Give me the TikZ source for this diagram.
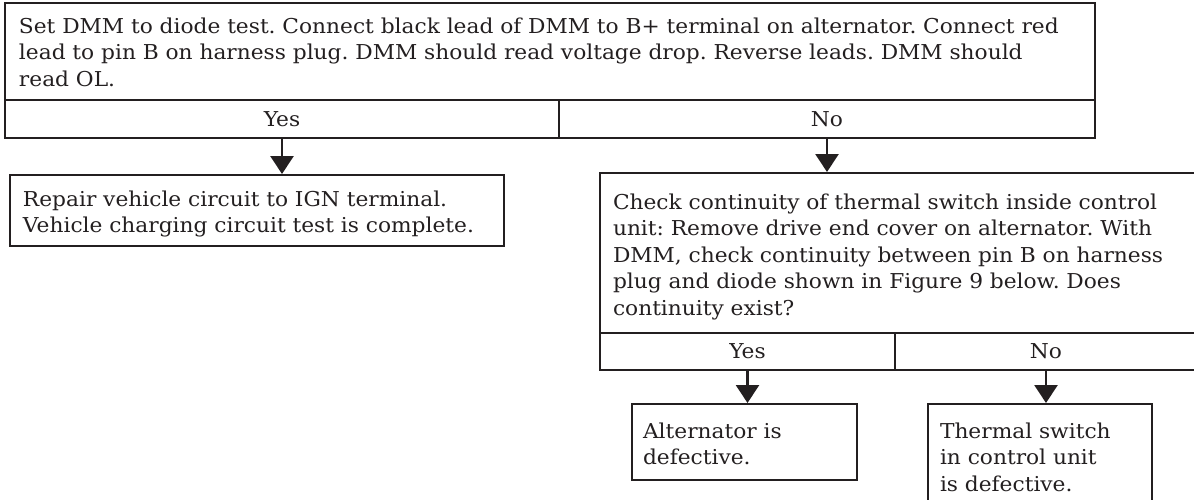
\documentclass[tikz,border=0pt]{standalone}
\usepackage{fontspec}
\setmainfont{DejaVu Serif}[FakeStretch=1.06]
\frenchspacing
\usetikzlibrary{arrows.meta}
\definecolor{ink}{RGB}{35,31,32}
\tikzstyle{block} = [rectangle, anchor=north west, draw=ink, text=ink, line width=2pt, align=left, inner ysep=0pt, font=\fontsize{20.5}{26.5}\selectfont]
\tikzstyle{cell} = [rectangle, anchor=north west, draw=ink, text=ink, line width=2pt, inner sep=0pt, font=\fontsize{20.5}{26.5}\selectfont]
\tikzstyle{arrow} = [draw=ink, line width=2.6pt, -{Triangle[width=23pt, length=18pt]}]

\begin{document}
\begin{tikzpicture}[x=1pt, y=-1pt]
  \useasboundingbox (0,0) rectangle (1194,499);
  \clip (0,0) rectangle (1194,499);
  \node[block, minimum width=1090pt, inner xsep=14pt, text width=1062pt, text height=30pt, text depth=67pt] (diode) at (4,2) {Set DMM to diode test. Connect black lead of DMM to B+ terminal on alternator. Connect red\\lead to pin B on harness plug. DMM should read voltage drop. Reverse leads. DMM should\\read OL.};
  \node[cell, minimum width=554pt, minimum height=38pt] (yes1) at (4,99) {Yes};
  \node[cell, minimum width=536pt, minimum height=38pt] (no1) at (558,99) {No};
  \node[block, minimum width=494pt, inner xsep=13pt, text width=468pt, text height=31pt, text depth=40pt] (repair) at (9,174) {Repair vehicle circuit to IGN terminal.\\Vehicle charging circuit test is complete.};
  \node[block, minimum width=597pt, inner xsep=13pt, text width=571pt, text height=36pt, text depth=124pt] (thermal) at (599,172) {Check continuity of thermal switch inside control\\unit: Remove drive end cover on alternator. With\\DMM, check continuity between pin B on harness\\plug and diode shown in Figure 9 below. Does\\continuity exist?};
  \node[cell, minimum width=295pt, minimum height=37pt] (yes2) at (599,332) {Yes};
  \node[cell, minimum width=302pt, minimum height=37pt] (no2) at (894,332) {No};
  \node[block, minimum width=225pt, inner xsep=11pt, text width=203pt, text height=34pt, text depth=42pt] (altdef) at (631,403) {Alternator is\\defective.};
  \node[block, minimum width=224pt, inner xsep=12pt, text width=200pt, text height=34pt, text depth=73pt] (switchdef) at (927,403) {Thermal switch\\in control unit\\is defective.};

  \draw[arrow] (yes1.south) -- (yes1.south |- repair.north);
  \draw[arrow] (no1.south) -- (no1.south |- thermal.north);
  \draw[arrow] (yes2.south) -- (yes2.south |- altdef.north);
  \draw[arrow] (no2.south) -- (no2.south |- switchdef.north);
\end{tikzpicture}
\end{document}
